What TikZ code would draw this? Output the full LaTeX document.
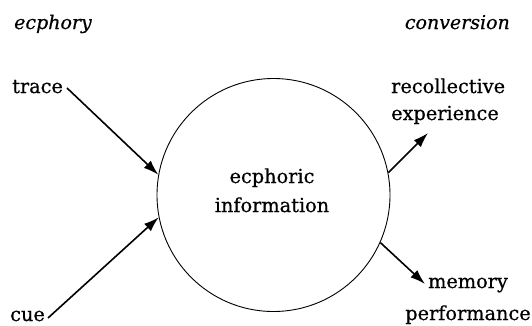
\documentclass[tikz,border=0pt]{standalone}
\usepackage{fontspec}
\setmainfont{DejaVu Serif}[FakeBold=0.6]
\usetikzlibrary{arrows.meta}
\begin{document}
\begin{tikzpicture}[x=1pt,y=-1pt,
  lbl/.style={inner sep=0pt, font=\fontsize{19.3}{27}\selectfont},
  ilbl/.style={inner sep=0pt, font=\fontsize{19}{27}\selectfont\itshape},
  arr/.style={line width=1.6pt, -{Latex[length=15pt,width=10pt]}}]
\useasboundingbox (0,0) rectangle (532,325);
\node[circle, draw, line width=0.9pt, minimum size=233pt, inner sep=0pt] (c) at (273.5,195) {};
\node[lbl, align=center, font=\fontsize{19.3}{29}\selectfont, anchor=base] (ei) at (272,212) {ecphoric\\information};
\node[ilbl, anchor=base west] (ecph) at (14,29) {ecphory};
\node[ilbl, anchor=base east] (conv) at (510,29) {conversion};
\node[lbl, anchor=base west] (trace) at (12,93) {trace};
\node[lbl, anchor=base west] (cue) at (10,321) {cue};
\node[lbl, align=left, anchor=base west] (rec) at (391,120) {recollective\\experience};
\node[lbl, align=center, font=\fontsize{19.3}{32}\selectfont, anchor=base] (mem) at (468,320) {memory\\performance};
\coordinate (tstart) at (67,88);
\coordinate (cstart) at (48,318);
\coordinate (rend) at (428,133);
\coordinate (mend) at (425,284);
\draw[arr] (tstart) -- (c.170);
\draw[arr] (cstart) -- (c.191);
\draw[arr] (c.11) -- (rend);
\draw[arr] (c.-24) -- (mend);
\end{tikzpicture}
\end{document}
